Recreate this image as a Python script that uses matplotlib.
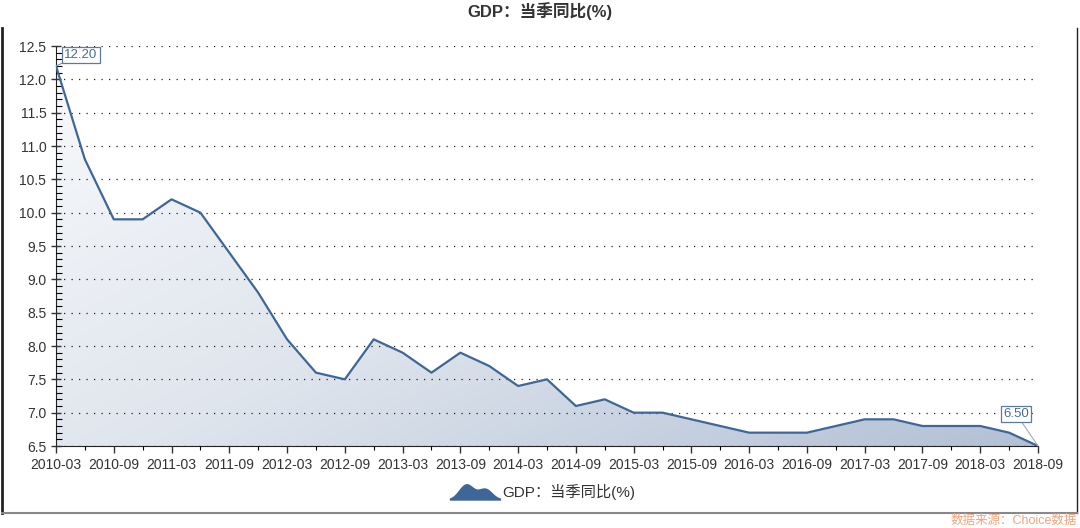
import numpy as np
import matplotlib
matplotlib.use('Agg')
import matplotlib.pyplot as plt
from matplotlib.path import Path
from matplotlib.lines import Line2D
from matplotlib.colors import LinearSegmentedColormap

plt.rcParams['font.family'] = ['Liberation Sans', 'Noto Sans CJK SC', 'DejaVu Sans']

# quarterly GDP yoy growth
quarters = ['2010-03', '2010-06', '2010-09', '2010-12',
            '2011-03', '2011-06', '2011-09', '2011-12',
            '2012-03', '2012-06', '2012-09', '2012-12',
            '2013-03', '2013-06', '2013-09', '2013-12',
            '2014-03', '2014-06', '2014-09', '2014-12',
            '2015-03', '2015-06', '2015-09', '2015-12',
            '2016-03', '2016-06', '2016-09', '2016-12',
            '2017-03', '2017-06', '2017-09', '2017-12',
            '2018-03', '2018-06', '2018-09']
gdp = [12.2, 10.8, 9.9, 9.9,
       10.2, 10.0, 9.4, 8.8,
       8.1, 7.6, 7.5, 8.1,
       7.9, 7.6, 7.9, 7.7,
       7.4, 7.5, 7.1, 7.2,
       7.0, 7.0, 6.9, 6.8,
       6.7, 6.7, 6.7, 6.8,
       6.9, 6.9, 6.8, 6.8,
       6.8, 6.7, 6.5]
title = 'GDP：当季同比(%)'

line_color = '#3e6797'
x = np.arange(len(quarters))
ymin, ymax = 6.5, 12.5

fig = plt.figure(figsize=(10.8, 5.28), dpi=100)
ax = fig.add_axes([56 / 1080, 1 - 446 / 528, (1038 - 56) / 1080, 400 / 528])

# gradient fill under the line
fill = ax.fill_between(x, gdp, ymin, color='none', lw=0)
cmap = LinearSegmentedColormap.from_list('g', ['#f9fafc', '#dfe5ed', '#b2c0d5'])
gx, gy = np.meshgrid(np.linspace(0, 1, 200), np.linspace(0, 1, 200))
grad = 0.55 * gx + 0.45 * gy
img = ax.imshow(grad, cmap=cmap, aspect='auto', origin='upper',
                extent=[x[0], x[-1], ymin, ymax], zorder=1)
img.set_clip_path(fill.get_paths()[0], transform=ax.transData)

ax.plot(x, gdp, color=line_color, lw=1.6, zorder=3)

ax.set_xlim(x[0], x[-1])
ax.set_ylim(ymin, ymax)
ax.set_yticks(np.arange(6.5, 12.51, 0.5))
ax.set_yticks(np.arange(6.5, 12.51, 0.1), minor=True)
ax.set_xticks(x[::2])
ax.set_xticklabels(quarters[::2])
ax.set_xticks(x, minor=True)
ax.tick_params(axis='both', labelsize=10, colors='#333333', length=5, width=1)
ax.tick_params(axis='both', which='minor', length=3, width=0.8)
ax.tick_params(axis='y', direction='inout', length=7)
ax.tick_params(axis='y', which='minor', direction='in', length=4)
ax.grid(axis='y', linestyle=(0, (1, 5)), color='#222222', lw=0.9, zorder=2)
ax.set_axisbelow(False)
for s in ['top', 'right']:
    ax.spines[s].set_visible(False)
ax.spines['left'].set_color('#222222')
ax.spines['bottom'].set_color('#222222')
ax.patch.set_alpha(0)

# end labels
box = dict(boxstyle='square,pad=0.15', fc='white', ec='#5a7aa3', lw=0.9)
ax.annotate(f'{gdp[0]:.2f}', xy=(x[0], gdp[0]), xytext=(6, 6), textcoords='offset points',
            fontsize=9.5, color='#4a6a96', bbox=box,
            arrowprops=dict(arrowstyle='-', color='#7f98b8', lw=0.8, shrinkA=0, shrinkB=0))
ax.annotate(f'{gdp[-1]:.2f}', xy=(x[-1], gdp[-1]), xytext=(-25, 21), textcoords='offset points',
            fontsize=9.5, color='#4a6a96', bbox=box,
            arrowprops=dict(arrowstyle='-', color='#9aaac0', lw=0.8, shrinkA=0, shrinkB=0))

fig.text(0.5, 1 - 11 / 528, title, ha='center', va='center', fontsize=12,
         fontweight='bold', color='#333333')

# legend with mountain icon
t = np.linspace(-1, 1, 80)
h = 0.6 * np.exp(-((t + 0.35) / 0.4) ** 2) + 0.42 * np.exp(-((t - 0.4) / 0.38) ** 2) - 0.3
h = np.maximum(h, -0.3)
verts = list(zip(t, h)) + [(1, -0.3), (-1, -0.3)]
mountain = Path(verts + [verts[0]], [Path.MOVETO] + [Path.LINETO] * (len(verts) - 1) + [Path.CLOSEPOLY])
handle = Line2D([], [], marker=mountain, markersize=36, color=line_color, linestyle='none')
fig.legend([handle], [title], loc='center', bbox_to_anchor=(0.507, 1 - 492 / 528),
           frameon=False, fontsize=11, labelcolor='#333333', handletextpad=0.8)

# outer frame
fig.add_artist(Line2D([2 / 1080, 2 / 1080], [1 - 28 / 528, 1 - 513 / 528], color='#222222', lw=2))
fig.add_artist(Line2D([1077 / 1080, 1077 / 1080], [1 - 28 / 528, 1 - 513 / 528], color='#222222', lw=1))
fig.add_artist(Line2D([2 / 1080, 1077 / 1080], [1 - 513 / 528, 1 - 513 / 528], color='#888888', lw=1.5))

fig.text(1 - 3 / 1080, 1 - 521 / 528, '数据来源：Choice数据', ha='right', va='center',
         fontsize=9, color='#f4a27a')

fig.savefig('out.png', dpi=100)
